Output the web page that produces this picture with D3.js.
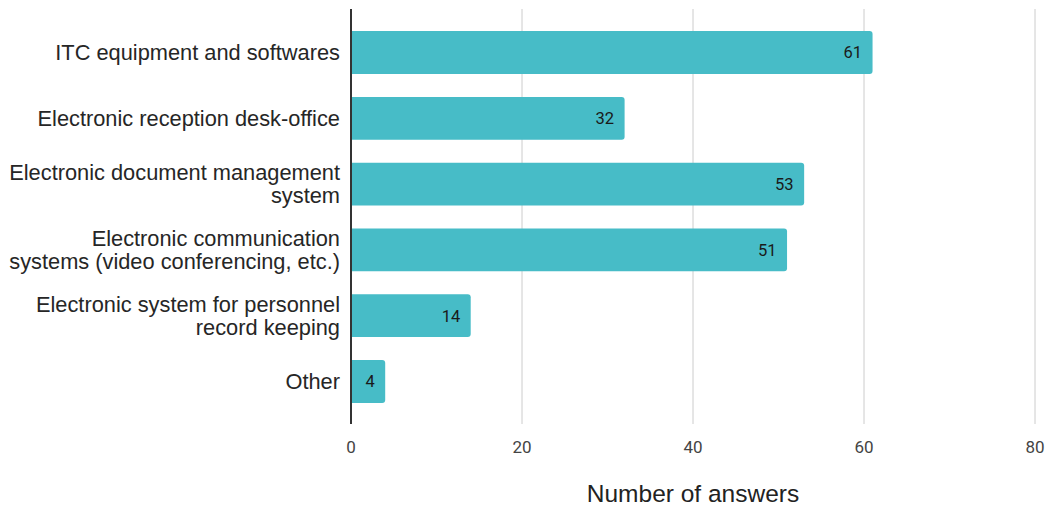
<!DOCTYPE html>
<html><head><meta charset="utf-8">
<script src="https://cdn.jsdelivr.net/npm/d3@7"></script>
<style>body{margin:0;background:#fff}svg{display:block}</style>
</head><body>
<svg id="c" width="1046" height="507"></svg>
<script>
const categories = [
  ["ITC equipment and softwares"],
  ["Electronic reception desk-office"],
  ["Electronic document management", "system"],
  ["Electronic communication", "systems (video conferencing, etc.)"],
  ["Electronic system for personnel", "record keeping"],
  ["Other"]
];
const values = [61, 32, 53, 51, 14, 4];
const xTicks = [0, 20, 40, 60, 80];
const xTitle = "Number of answers";

const svg = d3.select("#c");
const x = d3.scaleLinear().domain([0, 80]).range([351, 1035]);
const y = d3.scaleBand().domain(d3.range(categories.length)).range([19.6, 414.4]).paddingInner(0.35).paddingOuter(0.175);

svg.append("g").selectAll("line").data(xTicks.filter(d => d > 0)).join("line")
  .attr("x1", d => x(d)).attr("x2", d => x(d))
  .attr("y1", 9).attr("y2", 424)
  .attr("stroke", "#cccccc").attr("stroke-width", 1);

const r = 3;
svg.append("g").selectAll("path").data(values).join("path")
  .attr("d", (d, i) => {
    const x0 = x(0), x1 = x(d), y0 = y(i), h = y.bandwidth();
    return `M${x0},${y0}H${x1 - r}Q${x1},${y0} ${x1},${y0 + r}V${y0 + h - r}Q${x1},${y0 + h} ${x1 - r},${y0 + h}H${x0}Z`;
  })
  .attr("fill", "#47bcc7");

svg.append("g").selectAll("text").data(values).join("text")
  .attr("x", d => x(d) - 10.5)
  .attr("y", (d, i) => y(i) + y.bandwidth() / 2)
  .attr("dy", "0.36em")
  .attr("text-anchor", "end")
  .attr("font-family", "Roboto, sans-serif")
  .attr("font-size", 16.5)
  .attr("fill", "#1a1a1a")
  .text(d => d);

svg.append("line").attr("x1", x(0)).attr("x2", x(0)).attr("y1", 9).attr("y2", 424)
  .attr("stroke", "#333").attr("stroke-width", 2);

const cl = svg.append("g").selectAll("text").data(categories).join("text")
  .attr("text-anchor", "end")
  .attr("font-family", "'Liberation Sans', Arial, sans-serif")
  .attr("font-size", 21.8)
  .attr("fill", "#262626");
cl.each(function(lines, i) {
  const t = d3.select(this);
  const cy = y(i) + y.bandwidth() / 2;
  const lh = 22.5;
  lines.forEach((ln, k) => {
    t.append("tspan").attr("x", 340)
      .attr("y", cy + (k - (lines.length - 1) / 2) * lh)
      .attr("dy", "0.35em").text(ln);
  });
});

svg.append("g").selectAll("text").data(xTicks).join("text")
  .attr("x", d => x(d)).attr("y", 453)
  .attr("text-anchor", "middle")
  .attr("font-family", "Roboto, sans-serif")
  .attr("font-size", 17)
  .attr("fill", "#444")
  .text(d => d);

svg.append("text").attr("x", 693).attr("y", 502)
  .attr("text-anchor", "middle")
  .attr("font-family", "'Liberation Sans', Arial, sans-serif")
  .attr("font-size", 24.5)
  .attr("fill", "#222")
  .text(xTitle);
</script>
</body></html>
